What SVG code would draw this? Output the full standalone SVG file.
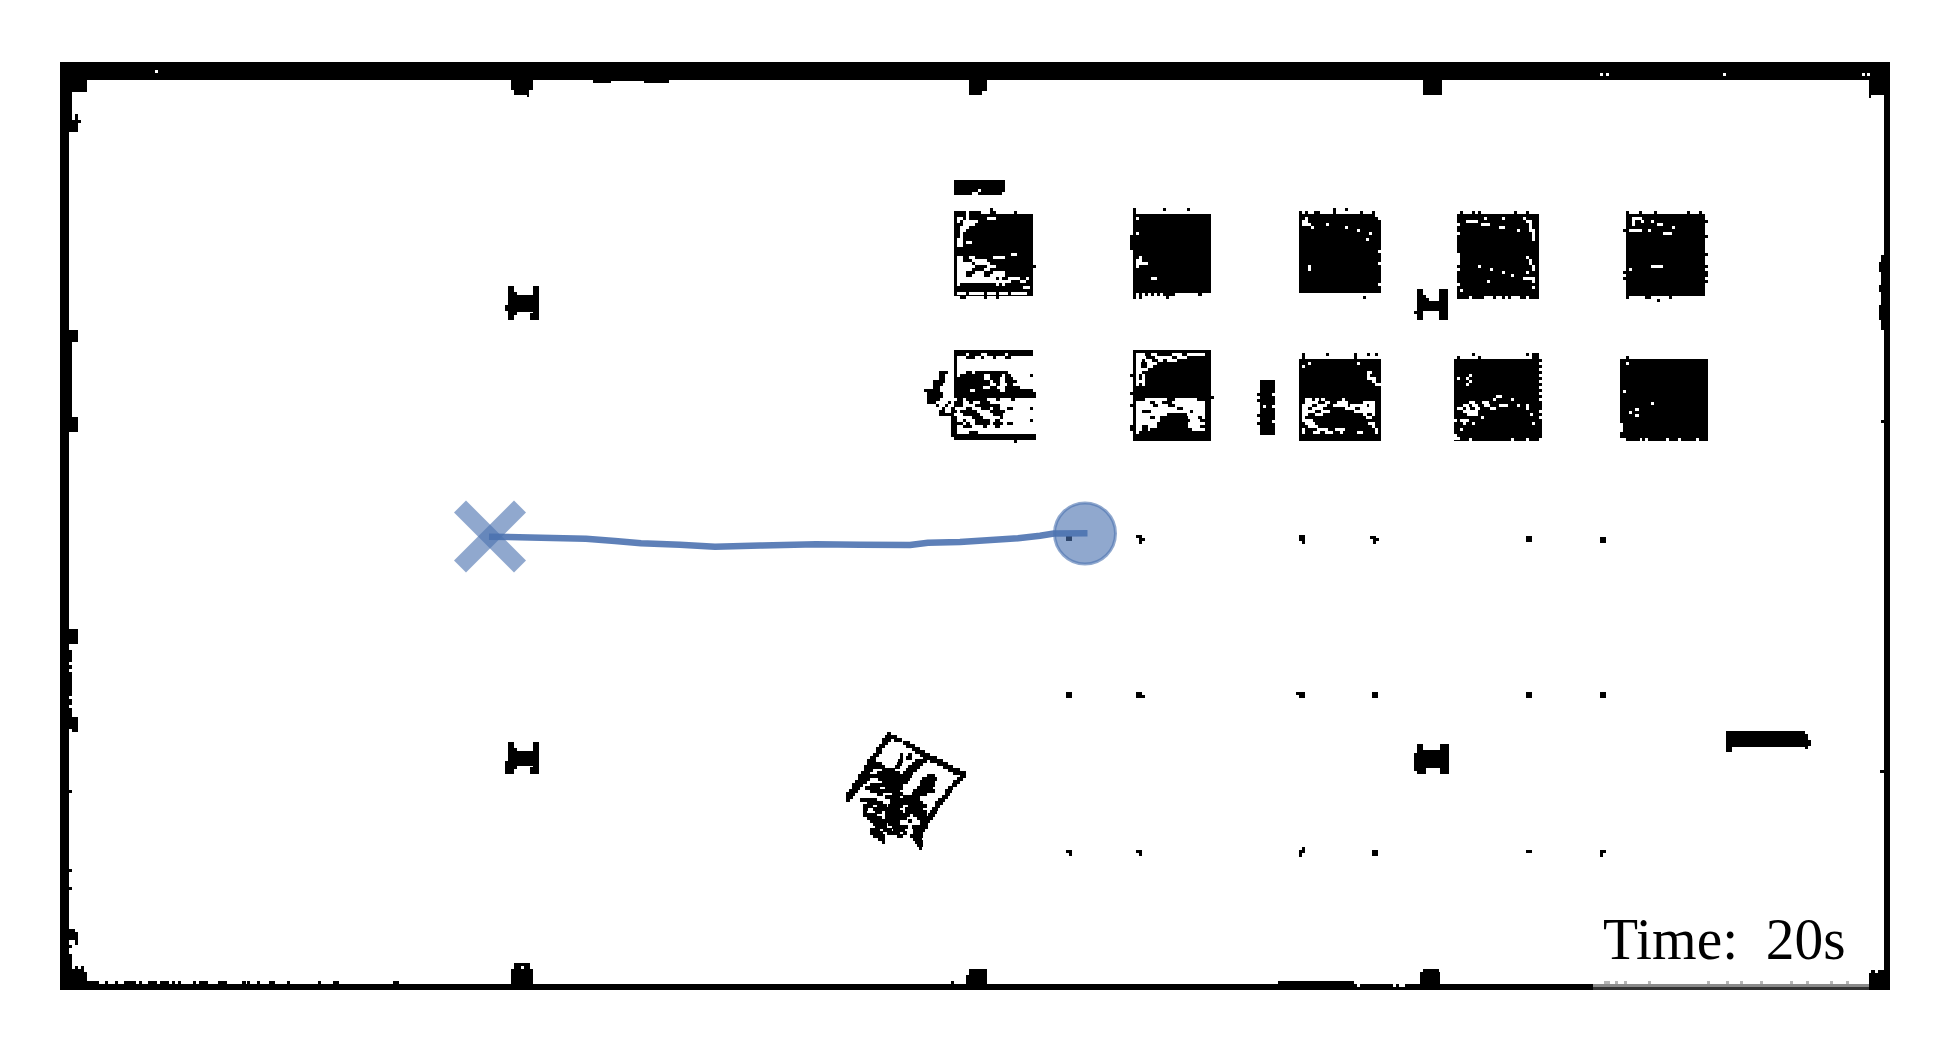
<svg xmlns="http://www.w3.org/2000/svg" width="1950" height="1050" viewBox="0 0 1950 1050">
<style>
.b{fill:#000;stroke:none;shape-rendering:crispEdges}
.k{stroke:#000;stroke-width:9;fill:none;shape-rendering:crispEdges}
.w{stroke:#fff;stroke-width:9;fill:none;shape-rendering:crispEdges}
.mark{stroke:#4c72b0;stroke-opacity:.62;stroke-width:17;fill:none}
.t{font-family:"Liberation Serif","Times New Roman",serif;font-size:60px;fill:#000;word-spacing:14px}
</style>
<rect width="1950" height="1050" fill="#fff"/>
<g id="map-frame">
<path class="b" d="M60 62H1890V990H1884V80H69V984H1593V990H60Z"/>
<path class="b" d="M60 62H1890V77H60Z"/>
<path class="b" d="M1176 77H1890V80H1176Z"/>
<path class="w" transform="scale(.33333)" d="M465 216H474M4800 225H4809M4818 225H4827M5169 225H5178M5586 225H5595M5601 225H5610"/>
<path class="b" d="M60 77H87V92H72V95H60ZM69 95H72V120H69ZM75 114H78V120H75ZM69 120H81V123H78V132H69ZM511 77H533V90H529V97H527V95H514V90H511ZM593 77H669V83H644V81H611V83H593ZM969 77H987V91H982V95H969ZM1423 77H1442V95H1423ZM1869 77H1884V95H1871V98H1869ZM1881 255H1884V330H1881ZM1879 262H1881V272H1879ZM1879 285H1881V292H1879ZM1879 305H1881V320H1879Z"/>
<path class="b" d="M88 77h5v3h-5zM96 77h9v3h-9zM107 77h18v3h-18zM132 77h8v3h-8zM143 77h9v3h-9zM154 77h9v3h-9zM167 77h7v3h-7zM178 77h7v3h-7zM187 77h7v3h-7zM198 77h34v3h-34zM292 77h5v3h-5zM303 77h7v3h-7zM315 77h20v3h-20zM413 77h3v3h-3zM472 77h3v3h-3zM536 77h6v3h-6zM546 77h4v3h-4zM553 77h6v3h-6zM562 77h4v3h-4zM570 77h6v3h-6zM580 77h10v3h-10zM669 77h10v3h-10zM684 77h6v3h-6zM700 77h14v3h-14zM720 77h20v3h-20zM940 77h3v3h-3zM946 77h3v3h-3zM960 77h9v3h-9zM990 77h6v3h-6zM1000 77h9v3h-9zM1013 77h6v3h-6zM1025 77h6v3h-6zM1035 77h6v3h-6zM1046 77h15v3h-15zM1064 77h6v3h-6zM1075 77h9v3h-9zM1090 77h6v3h-6zM1105 77h6v3h-6zM1118 77h6v3h-6zM1130 77h9v3h-9zM1150 77h6v3h-6zM1160 77h16v3h-16zM1222 77h3v3h-3z"/>
<path class="b" d="M69 330H78V342H72V417H78V432H69ZM69 629H78V644H69ZM69 650H72V662H69ZM69 665H72V669H69ZM69 672H72V696H69ZM69 699H72V705H69ZM69 708H72V717H78V732H72V729H69ZM69 790H72V793H69ZM69 869H72V872H69ZM69 887H72V890H69ZM69 929H75V932H78V945H75V940H69ZM69 945H72V948H69ZM69 954H72V969H75V966H78V969H81V966H84V972H87V981H99V984H69ZM1880 770H1884V773H1880ZM1881 420H1884V423H1881Z"/>
<path class="k" transform="translate(40 950) scale(.33333)" d="M195 97.500H204M225 97.500H234M252 97.500H288M297 97.500H306M324 97.500H351M360 97.500H387M396 97.500H405M414 97.500H423M459 97.500H468M477 97.500H504M534 97.500H561M606 97.500H618M621 97.500H631M651 97.500H660M687 97.500H705M741 97.500H750M834 97.500H843M879 97.500H897M1059 97.500H1077"/>
<path class="b" d="M511 984V969H514V963H530V969H533V984ZM951 981H954V984H951ZM966 984V975H969V969H987V984ZM1278 981H1354V984H1278ZM1420 984V972H1423V969H1439V972H1440V984Z"/>
<rect x="521" y="966" width="3" height="3" fill="#fff" style="shape-rendering:crispEdges"/>
<path class="w" d="M1357 985.500H1360M1393 985.500H1396M1399 985.500H1405" style="stroke-width:3"/>
<g id="map-faded-edge">
<rect x="1593" y="984" width="276" height="6" fill="#fff" style="shape-rendering:crispEdges"/>
<rect x="1593" y="984" width="276" height="3" fill="#8a8a8a" style="shape-rendering:crispEdges"/>
<rect x="1593" y="987" width="276" height="3" fill="#333" style="shape-rendering:crispEdges"/>
<path d="M1604 981h6v3h-6zM1615 981h3v3h-3zM1624 981h3v3h-3zM1648 981h3v3h-3zM1707 981h3v3h-3zM1726 981h3v3h-3zM1740 981h3v3h-3zM1760 981h3v3h-3zM1790 981h3v3h-3zM1806 981h3v3h-3zM1830 981h3v3h-3zM1846 981h3v3h-3z" fill="#b5b5b5" style="shape-rendering:crispEdges"/>
</g>
<path class="b" d="M1869 990V973H1871V970H1875V973H1878V970H1884V990Z"/>
</g>
<g id="pillar-top-left"><path class="b" d="M508 286H514V292H517V295H533V286H539V320H530V313H533V312H517V315H514V320H508V311H505V305H508Z"/></g>
<g id="pillar-bottom-left"><path class="b" transform="translate(0 456)" d="M508 286H514V292H517V295H533V286H539V318H530V311H533V310H517V313H514V318H505V305H508Z"/></g>
<g id="pillar-top-right"><path class="b" d="M1417 289H1423V295H1426V298H1429V301H1439V289H1448V320H1439V311H1423V320H1417V314H1414V311H1417Z"/></g>
<g id="pillar-bottom-right"><path class="b" d="M1417 744H1423V750H1440V744H1449V774H1440V768H1426V774H1417V771H1414V753H1417Z"/></g>
<g id="bar-top">
<path class="b" d="M954 180H1005V192H1002V195H978V192H972V195H954Z"/>
<rect x="978" y="189" width="3" height="3" fill="#fff" style="shape-rendering:crispEdges"/>
</g>
<g id="bar-mid">
<path class="b" d="M1260 380H1275V393H1272V396H1275V405H1272V408H1275V420H1272V423H1275V435H1260V425H1257V422H1260V417H1257V414H1260V402H1257V399H1260V396H1257V393H1260Z"/>
<rect x="1263" y="405" width="3" height="3" fill="#fff" style="shape-rendering:crispEdges"/>
</g>
<g id="bar-right"><path class="b" d="M1726 731H1805V734H1808V740H1811V746H1808V749H1805V747H1732V752H1726Z"/></g>
<g id="shelf-a1" transform="translate(900 150) scale(.33333)">
<path class="b" d="M162 183H399V438H162ZM180 438H198V447H180ZM252 438H261V447H252ZM288 438H297V447H288ZM399 345H408V354H399ZM270 174H279V183H270Z"/>
<path class="w" d="M198 187.500H207M243 187.500H270M288 187.500H342M351 187.500H399M198 196.500H207M171 205.500H189M198 205.500H207M261 205.500H288M171 214.500H180M189 214.500H234M189 223.500H225M180 232.500H207M180 241.500H198M180 250.500H189M180 259.500H189M171 268.500H189M171 277.500H189M198 277.500H216M171 286.500H189M333 313.500H351M171 322.500H189M207 322.500H225M279 322.500H315M171 331.500H189M216 331.500H261M171 340.500H216M225 340.500H270M171 349.500H225M261 349.500H288M171 358.500H216M252 358.500H270M171 367.500H198M225 367.500H252M279 367.500H315M171 376.500H198M216 376.500H252M270 376.500H315M171 385.500H288M297 385.500H306M324 385.500H360M378 385.500H387M171 394.500H333M360 394.500H378M171 403.500H180M288 403.500H297M306 403.500H315M369 412.500H390M171 430.500H198M207 430.500H252M261 430.500H288M297 430.500H324M333 430.500H380"/>
</g>
<g id="shelf-b1" transform="translate(900 150) scale(.33333)">
<path class="b" d="M699 192H933V438H699ZM699 174H708V192H699ZM789 174H798V183H789ZM861 174H870V183H861ZM690 255H699V300H690ZM699 438H708V447H699ZM717 438H726V447H717ZM798 438H807V447H798Z"/>
<path class="w" d="M708 205.500H717M708 250.500H717M717 322.500H726M708 331.500H726M708 340.500H744M708 349.500H717M753 385.500H771M708 433.500H717M726 433.500H735M744 433.500H753M762 433.500H771M780 433.500H790M825 433.500H895M906 433.500H933"/>
</g>
<g id="shelf-c1" transform="translate(900 150) scale(.33333)">
<path class="b" d="M1197 192H1443V429H1197ZM1197 183H1206V192H1197ZM1215 183H1224V192H1215ZM1242 183H1260V192H1242ZM1300 174H1309V192H1300ZM1336 174H1345V183H1336ZM1381 183H1390V192H1381ZM1417 183H1426V192H1417ZM1390 438H1399V447H1390Z"/>
<path class="w" d="M1426 196.500H1443M1435 205.500H1443M1215 205.500H1224M1206 214.500H1224M1278 223.500H1287M1206 223.500H1233M1233 232.500H1242M1336 232.500H1345M1372 241.500H1381M1408 250.500H1417M1399 268.500H1408M1435 304.500H1443M1435 340.500H1443M1224 349.500H1233M1224 358.500H1233M1435 403.500H1443"/>
</g>
<g id="shelf-d1" transform="translate(1350 150) scale(.33333)">
<path class="b" d="M321 192H567V438H321ZM330 183H339V192H330ZM366 183H375V192H366ZM384 183H393V192H384ZM492 183H501V192H492ZM528 183H537V192H528ZM321 438H357V447H321ZM366 438H402V447H366ZM429 438H438V447H429ZM456 438H465V447H456ZM474 438H483V447H474ZM510 438H528V447H510ZM537 438H567V447H537Z"/>
<path class="w" d="M402 205.500H411M456 205.500H465M519 205.500H528M348 214.500H384M528 214.500H546M393 223.500H420M537 223.500H546M447 232.500H465M537 232.500H546M501 241.500H510M537 241.500H555M546 250.500H555M546 259.500H555M546 268.500H555M528 322.500H537M537 331.500H546M537 340.500H546M384 349.500H393M546 349.500H555M420 358.500H429M546 358.500H555M456 367.500H465M528 367.500H537M483 376.500H492M519 385.500H555M411 394.500H420M546 394.500H555M546 412.500H555M330 421.500H339M321 223.500H330M321 250.500H330M321 313.500H330M321 322.500H330M321 331.500H330M321 340.500H330M321 358.500H330M321 403.500H330"/>
</g>
<g id="shelf-e1" transform="translate(1350 150) scale(.33333)">
<path class="b" d="M828 192H1065V438H828ZM828 183H837V192H828ZM868 183H877V192H868ZM912 183H921V192H912ZM1012 183H1021V192H1012ZM1048 183H1057V192H1048ZM819 237H828V246H819ZM819 363H828V372H819ZM819 381H828V390H819ZM1065 210H1074V219H1065ZM1065 255H1074V264H1065ZM1065 309H1074V318H1065ZM1065 345H1074V354H1065ZM1065 363H1074V381H1065ZM1065 390H1074V399H1065ZM828 438H837V447H828ZM885 438H903V447H885ZM957 438H966V447H957ZM921 447H930V456H921Z"/>
<path class="w" d="M846 205.500H876M846 214.500H855M873 214.500H882M903 214.500H912M846 223.500H855M921 223.500H939M966 232.500H975M837 241.500H876M894 241.500H903M939 250.500H966M903 349.500H939M837 358.500H846"/>
</g>
<g id="shelf-a2" transform="translate(900 150) scale(.33333)">
<path class="k" style="stroke-width:10" d="M162 604.500H399M162 613.500H198M216 613.500H243M261 613.500H315M324 613.500H399M162 622.500H171M198 622.500H225M243 622.500H252M279 622.500H288M315 622.500H333M162 631.500H171M162 640.500H171M162 649.500H171M162 658.500H171M117 667.500H144M162 667.500H171M198 667.500H216M225 667.500H324M117 676.500H135M162 676.500H171M180 676.500H252M270 676.500H306M315 676.500H333M390 676.500H399M117 685.500H135M162 685.500H252M270 685.500H300M315 685.500H340M99 694.500H135M162 694.500H270M279 694.500H300M315 694.500H350M99 703.500H130M162 703.500H270M288 703.500H300M320 703.500H340M99 712.500H120M162 712.500H250M270 712.500H290M315 712.500H360M72 721.500H120M162 721.500H210M225 721.500H300M315 721.500H399M81 730.500H130M162 730.500H408M81 739.500H130M162 739.500H408M81 748.500H120M171 748.500H190M198 748.500H260M288 748.500H300M333 748.500H345M81 757.500H108M144 757.500H153M162 757.500H190M207 757.500H220M240 757.500H270M108 766.500H117M135 766.500H144M162 766.500H190M225 766.500H300M126 775.500H135M153 775.500H165M198 775.500H215M243 775.500H270M280 775.500H300M320 775.500H340M390 775.500H399M117 784.500H135M153 784.500H170M180 784.500H230M270 784.500H315M117 793.500H162M189 793.500H240M279 793.500H310M153 802.500H171M216 802.500H250M300 802.500H310M153 811.500H171M189 811.500H198M225 811.500H270M285 811.500H300M390 811.500H399M153 820.500H190M198 820.500H210M225 820.500H270M280 820.500H310M320 820.500H340M153 829.500H171M189 829.500H215M250 829.500H262M285 829.500H300M153 838.500H171M153 847.500H171M207 847.500H234M153 856.500H408M162 865.500H408M342 874.500H351M207 613.500H216"/>
</g>
<g id="shelf-b2" transform="translate(900 150) scale(.33333)">
<path class="b" d="M699 600H933V873H699ZM690 672H699V681H690ZM690 726H699V735H690ZM690 762H699V771H690ZM690 826H699V844H690ZM933 738H942V747H933Z"/>
<path class="w" d="M708 613.500H735M752 613.500H770M815 613.500H845M860 613.500H915M708 622.500H738M765 622.500H815M832 622.500H860M708 631.500H726M735 631.500H756M773 631.500H790M800 631.500H830M708 640.500H722M741 640.500H770M708 649.500H722M741 649.500H760M708 658.500H745M708 667.500H726M708 676.500H717M726 676.500H735M708 685.500H717M726 685.500H735M708 694.500H735M708 703.500H717M726 703.500H735M735 748.500H800M825 748.500H890M708 757.500H750M765 757.500H785M815 757.500H915M708 766.500H760M775 766.500H805M825 766.500H915M708 775.500H830M850 775.500H915M708 784.500H725M752 784.500H870M880 784.500H915M708 793.500H800M860 793.500H915M708 802.500H750M765 802.500H780M865 802.500H895M905 802.500H915M708 811.500H780M870 811.500H900M708 820.500H770M865 820.500H915M708 829.500H725M745 829.500H770M865 829.500H900M708 838.500H725M745 838.500H750M875 838.500H915M708 847.500H718"/>
</g>
<g id="shelf-c2" transform="translate(900 150) scale(.33333)">
<path class="b" d="M1197 627H1443V873H1197ZM1206 609H1215V627H1206ZM1278 609H1287V618H1278ZM1362 609H1371V627H1362ZM1400 609H1409V618H1400ZM1425 609H1434V618H1425Z"/>
<path class="w" d="M1224 640.500H1233M1372 640.500H1381M1206 649.500H1215M1400 667.500H1417M1400 676.500H1409M1400 685.500H1427M1417 694.500H1427M1426 703.500H1443M1215 748.500H1235M1245 748.500H1258M1262 748.500H1275M1325 748.500H1335M1215 757.500H1255M1275 757.500H1290M1310 757.500H1345M1390 757.500H1425M1206 766.500H1235M1250 766.500H1280M1300 766.500H1345M1350 766.500H1400M1407 766.500H1425M1206 775.500H1225M1235 775.500H1270M1335 775.500H1365M1380 775.500H1425M1206 784.500H1245M1262 784.500H1290M1362 784.500H1425M1206 793.500H1225M1245 793.500H1270M1390 793.500H1400M1416 793.500H1425M1206 802.500H1215M1398 802.500H1416M1206 811.500H1240M1215 820.500H1245M1405 820.500H1425M1225 829.500H1255M1415 829.500H1425M1206 838.500H1215M1250 838.500H1285M1305 838.500H1335M1425 838.500H1434M1206 847.500H1215M1240 847.500H1260M1275 847.500H1300M1320 847.500H1330M1370 847.500H1390M1425 847.500H1434"/>
</g>
<g id="shelf-d2" transform="translate(1350 150) scale(.33333)">
<path class="b" d="M312 627H576V873H312ZM322 618H330V627H322ZM366 609H375V618H366ZM384 618H393V627H384ZM528 609H537V618H528ZM546 609H567V627H546Z"/>
<path class="w" d="M357 676.500H366M321 685.500H330M348 685.500H357M357 694.500H366M348 703.500H357M438 739.500H456M429 748.500H438M483 748.500H492M357 757.500H375M396 757.500H417M339 766.500H357M366 766.500H385M402 766.500H420M447 766.500H474M501 766.500H510M528 766.500H537M321 775.500H339M348 775.500H360M375 775.500H390M420 775.500H438M528 775.500H537M339 784.500H385M350 793.500H385M540 793.500H549M393 802.500H402M330 811.500H358M339 820.500H348M366 820.500H375M546 820.500H555M330 838.500H339M567 640.500H576M567 658.500H576M567 676.500H576M567 694.500H576M567 712.500H576M567 730.500H576M567 748.500H576M567 784.500H576M567 802.500H576M312 811.500H321M312 856.500H321M312 865.500H330M357 868.500H366M483 868.500H492M528 868.500H537M567 868.500H576"/>
</g>
<g id="shelf-e2" transform="translate(1350 150) scale(.33333)">
<path class="b" d="M810 627H1074V873H810ZM828 618H837V627H828Z"/>
<path class="w" d="M828 640.500H837M819 724.500H828M903 760.500H912M855 778.500H867M837 787.500H846M855 796.500H867M814.500 819V846M810 868.500H828M870 868.500H876M884 868.500H894M948 868.500H958M984 868.500H994M1038 868.500H1048"/>
</g>
<g id="posts">
<path class="b" d="M1066 536H1072V541H1066ZM1136 535H1142V538H1145V541H1142V544H1139V538H1136ZM1299 535H1305V544H1302V541H1299ZM1370 536H1376V538H1379V541H1376V544H1373V539H1370ZM1526 536H1532V542H1526ZM1600 537H1606V543H1600ZM1066 692H1072V698H1066ZM1136 692H1142V695H1145V698H1136ZM1296 692H1305V698H1299V695H1296ZM1372 692H1378V698H1372ZM1526 692H1532V698H1526ZM1600 692H1606V698H1600ZM1066 850H1072V856H1069V853H1066ZM1136 850H1142V856H1139V853H1136ZM1302 847H1305V853H1302V857H1299V850H1302ZM1372 850H1378V856H1372ZM1526 850H1532V853H1526ZM1600 850H1606V853H1603V857H1600Z"/>
</g>
<g id="cart" transform="translate(820 710) scale(.33333)">
<path class="k" style="stroke-width:11" d="M200 72.500H212M195 81.500H230M186 90.500H212M222 90.500H245M186 99.500H204M250 99.500H270M177 108.500H195M258 108.500H285M168 117.500H186M275 117.500H300M168 126.500H186M285 126.500H315M159 135.500H177M240 135.500H250M265 135.500H275M300 135.500H330M150 144.500H168M240 144.500H250M258 144.500H275M310 144.500H350M141 153.500H168M235 153.500H250M285 153.500H320M330 153.500H368M141 162.500H186M230 162.500H245M275 162.500H310M350 162.500H385M132 171.500H195M225 171.500H240M265 171.500H300M368 171.500H400M132 180.500H160M185 180.500H225M258 180.500H290M385 180.500H420M123 189.500H150M170 189.500H240M250 189.500H280M400 189.500H438M114 198.500H275M320 198.500H345M420 198.500H438M114 207.500H150M175 207.500H270M305 207.500H350M410 207.500H430M105 216.500H140M185 216.500H265M300 216.500H345M400 216.500H420M96 225.500H130M150 225.500H250M300 225.500H345M395 225.500H410M96 234.500H120M135 234.500H180M195 234.500H250M290 234.500H340M385 234.500H400M86 243.500H115M150 243.500H240M280 243.500H345M375 243.500H395M77 252.500H105M170 252.500H190M215 252.500H250M275 252.500H320M375 252.500H390M77 261.500H100M195 261.500H240M250 261.500H300M365 261.500H385M77 270.500H90M120 270.500H170M210 270.500H300M355 270.500H375M140 279.500H190M210 279.500H310M345 279.500H370M130 288.500H160M170 288.500H200M205 288.500H250M265 288.500H320M345 288.500H360M130 297.500H145M160 297.500H240M255 297.500H310M335 297.500H355M130 306.500H140M165 306.500H185M195 306.500H250M255 306.500H320M330 306.500H350M130 315.500H170M195 315.500H270M280 315.500H320M325 315.500H345M140 324.500H185M195 324.500H260M290 324.500H340M150 333.500H240M265 333.500H275M300 333.500H330M160 342.500H200M205 342.500H240M300 342.500H325M165 351.500H200M215 351.500H265M275 351.500H325M150 360.500H180M190 360.500H215M220 360.500H255M280 360.500H315M150 369.500H190M200 369.500H240M250 369.500H260M280 369.500H310M160 378.500H195M230 378.500H250M270 378.500H310M175 387.500H195M280 387.500H305M185 396.500H195M285 396.500H310M290 405.500H310M297 414.500H305"/>
</g>
<g id="connectors">
<path id="trajectory" fill="none" stroke="#4c72b0" stroke-opacity=".9" stroke-width="6.500" stroke-linejoin="round" d="M489 536.700L530 537.500L586 538.700L615 541L641 543.300L680 544.700L715 546.700L760 545.500L816 544.300L860 544.800L910 545L928 542.700L960 542L1018 538.300L1040 535.700L1054 533.500L1087.500 533.300"/>
</g>
<g id="goal"><path class="mark" d="M460 506.500L520 566.500"/><path class="mark" d="M520 506.500L460 566.500"/></g>
<g id="robot"><circle cx="1085" cy="533.500" r="30.500" fill="#4c72b0" fill-opacity=".62" stroke="#4c72b0" stroke-opacity=".62" stroke-width="3"/></g>
<g id="time-label"><text class="t" transform="translate(1603 959) scale(.957 1)">Time: 20s</text></g>
</svg>
